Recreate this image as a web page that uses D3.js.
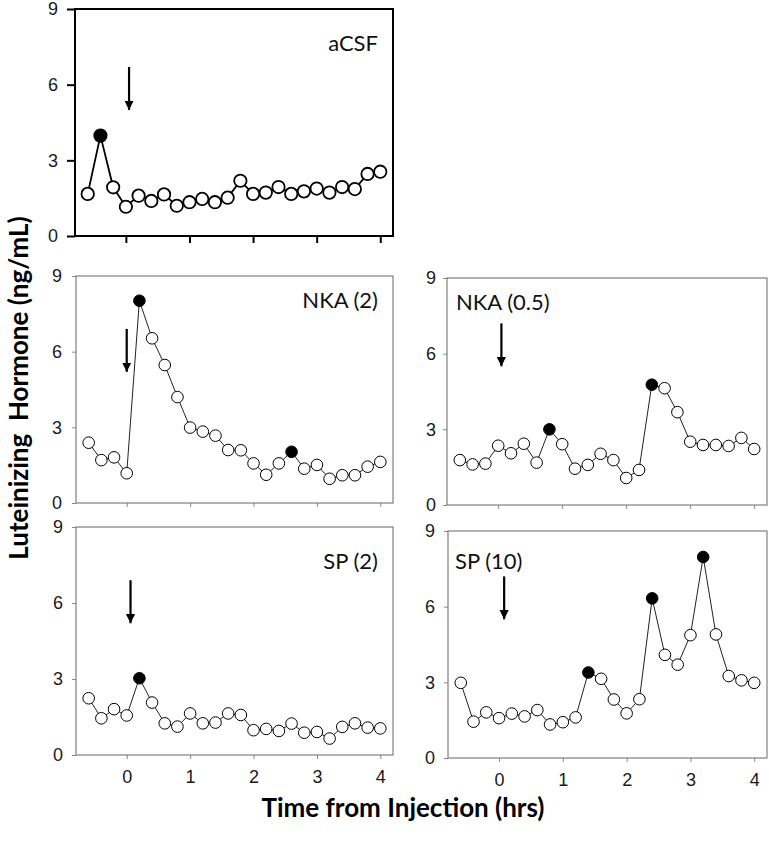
<!DOCTYPE html>
<html><head><meta charset="utf-8">
<script src="https://cdn.jsdelivr.net/npm/d3@7"></script>
<style>body{margin:0;background:#fff}</style>
</head><body>
<svg id="c" width="769" height="846"></svg>
<script>
// ---- data ----
const times = [-0.6,-0.4,-0.2,0,0.2,0.4,0.6,0.8,1.0,1.2,1.4,1.6,1.8,2.0,2.2,2.4,2.6,2.8,3.0,3.2,3.4,3.6,3.8,4.0];
const panelNames = ["aCSF","NKA (2)","NKA (0.5)","SP (2)","SP (10)"];
const lhACSF  = [1.67,3.98,1.93,1.16,1.60,1.39,1.65,1.20,1.34,1.47,1.34,1.52,2.19,1.67,1.72,1.94,1.67,1.77,1.88,1.72,1.94,1.86,2.46,2.55];
const lhNKA2  = [2.39,1.70,1.81,1.18,8.02,6.53,5.47,4.20,2.99,2.83,2.67,2.10,2.09,1.57,1.12,1.57,2.03,1.36,1.51,0.96,1.10,1.10,1.44,1.63];
const lhNKA05 = [1.78,1.61,1.64,2.35,2.05,2.43,1.68,3.00,2.41,1.44,1.59,2.03,1.78,1.07,1.39,4.77,4.63,3.68,2.51,2.38,2.38,2.34,2.66,2.22];
const lhSP2   = [2.24,1.45,1.81,1.56,3.03,2.07,1.25,1.12,1.64,1.25,1.28,1.64,1.58,0.98,1.03,0.95,1.24,0.88,0.91,0.65,1.11,1.25,1.08,1.05];
const lhSP10  = [2.98,1.44,1.81,1.58,1.76,1.65,1.90,1.33,1.42,1.61,3.39,3.14,2.32,1.77,2.33,6.33,4.09,3.70,4.87,7.97,4.90,3.25,3.08,2.98];
const pulseACSF  = [-0.4];
const pulseNKA2  = [0.2, 2.6];
const pulseNKA05 = [0.8, 2.4];
const pulseSP2   = [0.2];
const pulseSP10  = [1.4, 2.4, 3.2];
const arrowTime   = [0.05, 0.0, 0.05, 0.06, 0.08];
const arrowTop    = [6.7, 6.9, 7.2, 6.9, 7.2];
const arrowBottom = [5.0, 5.2, 5.5, 5.2, 5.5];
const xTicks = [0,1,2,3,4];
const yTicks = [0,3,6,9];
const xDomain = [-0.8, 4.2];
const yDomain = [0, 9];

const seriesList = [lhACSF, lhNKA2, lhNKA05, lhSP2, lhSP10];
const pulseList  = [pulseACSF, pulseNKA2, pulseNKA05, pulseSP2, pulseSP10];

// ---- layout ----
const layout = [
  {l:75,  r:393, t:9,   b:236, bold:true,  xLabels:false, lab:{x:378, y:51,  anchor:"end"},   gap:17},
  {l:76,  r:393, t:276, b:503, bold:false, xLabels:false, lab:{x:378, y:308, anchor:"end"},   gap:14},
  {l:447, r:767, t:278, b:505, bold:false, xLabels:false, lab:{x:456, y:310, anchor:"start"}, gap:11},
  {l:76,  r:393, t:527, b:755, bold:false, xLabels:true,  lab:{x:378, y:569, anchor:"end"},   gap:13},
  {l:448, r:767, t:531, b:758, bold:false, xLabels:true,  lab:{x:455, y:569, anchor:"start"}, gap:13}
];

const svg = d3.select("#c");
const defs = svg.append("defs");
defs.append("marker").attr("id","ah").attr("viewBox","0 0 10 10")
  .attr("refX",10).attr("refY",5).attr("markerWidth",4.2).attr("markerHeight",4.6)
  .attr("markerUnits","strokeWidth").attr("orient","auto")
  .append("path").attr("d","M0,0 L10,5 L0,10 Z").attr("fill","#000");

const tickFont = "'Liberation Sans', Arial, sans-serif";
const labelFont = "Lato, 'Open Sans', sans-serif";
const tickSize = 18;

layout.forEach((L, i) => {
  const x = d3.scaleLinear().domain(xDomain).range([L.l, L.r]);
  const y = d3.scaleLinear().domain(yDomain).range([L.b, L.t]);
  const g = svg.append("g");
  const frameCol = L.bold ? "#000" : "#666";
  const frameW = L.bold ? 2 : 1;
  const tickCol = L.bold ? "#000" : "#8a8a8a";
  const tickW = L.bold ? 2 : 1;
  const tickLen = L.bold ? 7 : 4;

  // x axis (bottom)
  const xa = g.append("g").attr("transform",`translate(0,${L.b})`)
    .call(d3.axisBottom(x).tickValues(xTicks).tickSize(tickLen).tickSizeOuter(0).tickPadding(7)
      .tickFormat(L.xLabels ? d3.format("d") : () => ""));
  xa.select(".domain").remove();
  xa.selectAll("line").attr("stroke",tickCol).attr("stroke-width",tickW);
  xa.selectAll("text").attr("font-family",tickFont).attr("font-size",tickSize).attr("fill","#1a1a1a")
    .attr("dy","0.95em");

  // y axis (left)
  const ya = g.append("g").attr("transform",`translate(${L.l},0)`)
    .call(d3.axisLeft(y).tickValues(yTicks).tickSize(L.bold ? 8 : 4).tickSizeOuter(0)
      .tickPadding(L.gap - (L.bold ? 8 : 4)).tickFormat(d3.format("d")));
  ya.select(".domain").remove();
  ya.selectAll("line").attr("stroke",tickCol).attr("stroke-width",tickW);
  ya.selectAll("text").attr("font-family",tickFont).attr("font-size",tickSize).attr("fill","#1a1a1a");

  // frame
  g.append("rect").attr("x",L.l).attr("y",L.t).attr("width",L.r-L.l).attr("height",L.b-L.t)
    .attr("fill","none").attr("stroke",frameCol).attr("stroke-width",frameW);

  // line
  const data = times.map((t,k)=>({t, v:seriesList[i][k]}));
  g.append("path").datum(data)
    .attr("d", d3.line().x(d=>x(d.t)).y(d=>y(d.v)))
    .attr("fill","none").attr("stroke", L.bold ? "#000" : "#222")
    .attr("stroke-width", L.bold ? 1.8 : 1);

  // points
  const pulses = pulseList[i];
  g.selectAll("circle.pt").data(data).join("circle").attr("class","pt")
    .attr("cx",d=>x(d.t)).attr("cy",d=>y(d.v))
    .attr("r", L.bold ? 6.2 : 5.8)
    .attr("fill", d => pulses.some(p=>Math.abs(p-d.t)<1e-6) ? "#000" : "#fff")
    .attr("stroke", "#000")
    .attr("stroke-width", L.bold ? 1.8 : 1);

  // arrow
  g.append("line")
    .attr("x1", x(arrowTime[i])).attr("x2", x(arrowTime[i]))
    .attr("y1", y(arrowTop[i])).attr("y2", y(arrowBottom[i]))
    .attr("stroke","#000").attr("stroke-width",2.2).attr("marker-end","url(#ah)");

  // panel label
  g.append("text").attr("x",L.lab.x).attr("y",L.lab.y).attr("text-anchor",L.lab.anchor)
    .attr("font-family",labelFont).attr("font-size",22).attr("fill","#111")
    .text(panelNames[i]);
});

// axis titles
svg.append("text").attr("transform","translate(28,388) rotate(-90)")
  .attr("text-anchor","middle").attr("font-family",labelFont).attr("font-weight","bold")
  .attr("font-size",26).attr("fill","#000").attr("xml:space","preserve")
  .text("Luteinizing  Hormone (ng/mL)");
svg.append("text").attr("x",403).attr("y",817)
  .attr("text-anchor","middle").attr("font-family",labelFont).attr("font-weight","bold")
  .attr("font-size",26).attr("fill","#000")
  .text("Time from Injection (hrs)");
</script>
</body></html>
